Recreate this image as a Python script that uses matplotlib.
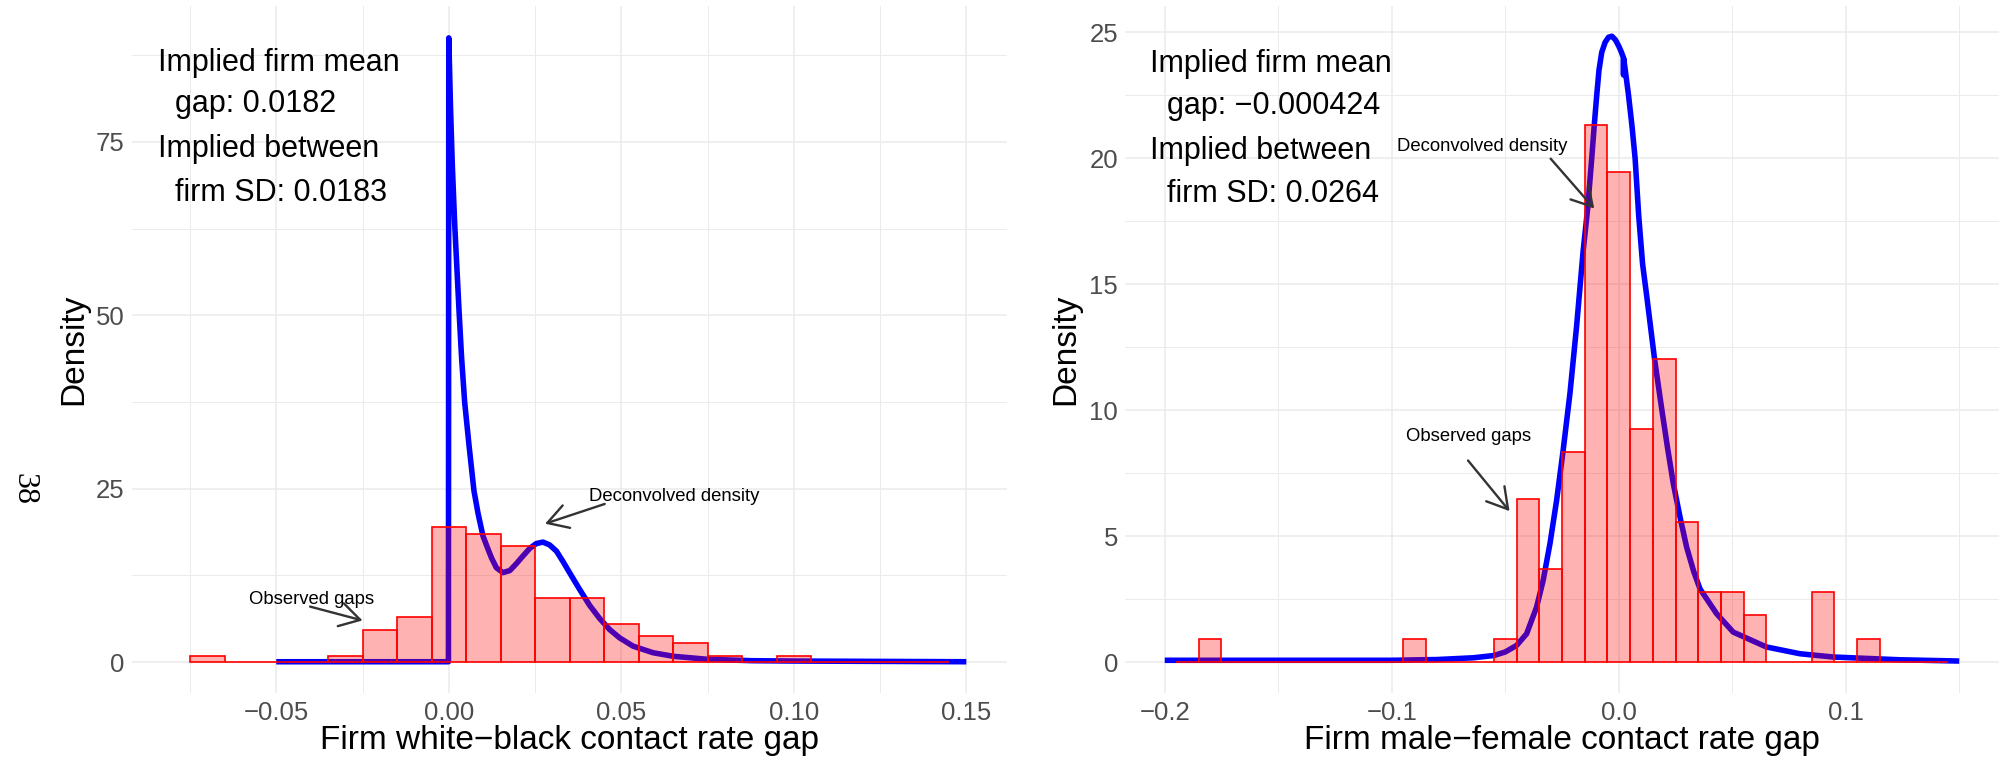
import matplotlib
matplotlib.use('Agg')
import matplotlib.pyplot as plt
from matplotlib.ticker import FixedLocator, FixedFormatter

plt.rcParams['font.family'] = ['Liberation Sans', 'DejaVu Sans']

# ---- white-black panel ----
wb_bin_centers = [-0.07, -0.06, -0.05, -0.04, -0.03, -0.02, -0.01, 0.00, 0.01, 0.02, 0.03,
                  0.04, 0.05, 0.06, 0.07, 0.08, 0.09, 0.10, 0.11, 0.12, 0.13, 0.14]
wb_density = [0.93, 0, 0, 0, 0.93, 4.63, 6.48, 19.44, 18.52, 16.67, 9.26,
              9.26, 5.56, 3.70, 2.78, 0.93, 0, 0.93, 0, 0, 0, 0]
wb_curve_x = [-0.05, -0.03, -0.01, -0.0001, 0.0, 0.0005, 0.001, 0.0017, 0.003, 0.0037,
              0.0046, 0.0059, 0.0073, 0.0085, 0.0099, 0.0112, 0.0124, 0.0138, 0.0157, 0.0177,
              0.0196, 0.0215, 0.0235, 0.0254, 0.0273, 0.0292, 0.0312, 0.0331, 0.035, 0.0379,
              0.0408, 0.0437, 0.0466, 0.0495, 0.0534, 0.0592, 0.065, 0.075, 0.088, 0.1, 0.15]
wb_curve_y = [0.05, 0.05, 0.05, 0.05, 90.0, 80.0, 72.0, 63.3, 50.4, 44.0,
              37.5, 31.1, 24.7, 21.4, 18.2, 16.5, 15.0, 13.6, 12.9, 13.2,
              14.2, 15.3, 16.4, 17.1, 17.3, 16.9, 16.0, 14.5, 12.9, 10.5,
              8.2, 6.3, 4.7, 3.5, 2.3, 1.35, 0.84, 0.4, 0.2, 0.15, 0.05]

# ---- male-female panel ----
mf_bin_centers = [-0.19, -0.18, -0.17, -0.16, -0.15, -0.14, -0.13, -0.12, -0.11, -0.10,
                  -0.09, -0.08, -0.07, -0.06, -0.05, -0.04, -0.03, -0.02, -0.01, 0.00,
                  0.01, 0.02, 0.03, 0.04, 0.05, 0.06, 0.07, 0.08, 0.09, 0.10,
                  0.11, 0.12, 0.13, 0.14]
mf_density = [0, 0.93, 0, 0, 0, 0, 0, 0, 0, 0,
              0.93, 0, 0, 0, 0.93, 6.48, 3.70, 8.33, 21.30, 19.44,
              9.26, 12.04, 5.56, 2.78, 2.78, 1.85, 0, 0, 2.78, 0,
              0.93, 0, 0, 0]
mf_curve_x = [-0.2, -0.15, -0.1, -0.08, -0.064, -0.055, -0.05, -0.045, -0.0406, -0.0362,
              -0.0333, -0.0303, -0.0274, -0.0245, -0.0215, -0.0186, -0.0157, -0.0137, -0.0119,
              -0.0108, -0.0097, -0.0087, -0.0075, -0.006, -0.0045, -0.003, -0.0015, 0.0,
              0.0012, 0.0020, 0.0021, 0.0022, 0.0043, 0.0058, 0.0072, 0.0088, 0.0105, 0.0125,
              0.0158, 0.019, 0.0215, 0.024, 0.027, 0.0299, 0.033, 0.0358, 0.0431, 0.0504,
              0.065, 0.0798, 0.0944, 0.1238, 0.15]
mf_curve_y = [0.07, 0.07, 0.07, 0.1, 0.17, 0.26, 0.4, 0.66, 1.12, 2.18,
              3.24, 4.7, 6.4, 8.4, 10.66, 13.3, 16.3, 18.0, 20.0,
              21.3, 22.5, 23.5, 24.2, 24.6, 24.8, 24.84, 24.7, 24.45,
              24.2, 24.0, 23.3, 23.95, 22.5, 21.3, 20.0, 17.7, 15.8, 14.4,
              12.0, 10.0, 8.5, 7.1, 5.75, 4.56, 3.6, 2.9, 1.92, 1.19,
              0.6, 0.33, 0.2, 0.09, 0.04]

wb_stats = ["Implied firm mean", "  gap: 0.0182", "Implied between", "  firm SD: 0.0183"]
mf_stats = ["Implied firm mean", "  gap: \u22120.000424", "Implied between", "  firm SD: 0.0264"]

GRID = '#EBEBEB'
ARROW = dict(arrowstyle='->,head_length=1.45,head_width=0.85', color='#333333',
             lw=1.7, shrinkA=0, shrinkB=0, mutation_scale=10)


def draw_panel(ax, centers, dens, cx, cy, xlim, ylim, xmaj, xlab, xmin, ymaj, ymin, xlabel):
    ax.plot(cx, cy, color='#0000FF', lw=4.0, solid_capstyle='butt',
            solid_joinstyle='round', zorder=2)
    ax.bar(centers, dens, width=0.01, facecolor=(1, 0, 0, 0.3), edgecolor='#FF0000',
           linewidth=1.2, zorder=3)
    ax.set_xlim(*xlim)
    ax.set_ylim(*ylim)
    ax.xaxis.set_major_locator(FixedLocator(xmaj))
    ax.xaxis.set_major_formatter(FixedFormatter(xlab))
    ax.xaxis.set_minor_locator(FixedLocator(xmin))
    ax.yaxis.set_major_locator(FixedLocator(ymaj))
    ax.yaxis.set_minor_locator(FixedLocator(ymin))
    ax.grid(which='major', color=GRID, lw=1.1, zorder=0)
    ax.grid(which='minor', color=GRID, lw=0.7, zorder=0)
    ax.set_axisbelow(True)
    for s in ax.spines.values():
        s.set_visible(False)
    ax.tick_params(which='both', length=0, labelsize=18.5, labelcolor='#4D4D4D')
    ax.tick_params(axis='x', pad=5.5)
    ax.tick_params(axis='y', pad=5)
    ax.set_xlabel(xlabel, fontsize=24, va='center')
    ax.xaxis.set_label_coords(0.5, -0.0694)
    ax.set_ylabel('Density', fontsize=24, va='center')


def draw_stats(ax, x, ys, lines):
    for y, line in zip(ys, lines):
        ax.text(x, y, line, fontsize=22, ha='left', va='baseline', zorder=5)


fig = plt.figure(figsize=(20.06, 7.61), dpi=100)
ax1 = fig.add_axes([0.06565, 0.08897, 0.43619, 0.90315])
ax2 = fig.add_axes([0.56082, 0.08897, 0.43569, 0.90315])

draw_panel(ax1, wb_bin_centers, wb_density, wb_curve_x, wb_curve_y,
           (-0.0919, 0.1617), (-4.5, 94.6),
           [-0.05, 0.0, 0.05, 0.10, 0.15], ['\u22120.05', '0.00', '0.05', '0.10', '0.15'],
           [-0.075, -0.025, 0.025, 0.075, 0.125],
           [0, 25, 50, 75], [12.5, 37.5, 62.5, 87.5],
           'Firm white\u2212black contact rate gap')
ax1.yaxis.set_label_coords(-0.0659, 0.5)

draw_panel(ax2, mf_bin_centers, mf_density, mf_curve_x, mf_curve_y,
           (-0.2175, 0.1675), (-1.24, 26.04),
           [-0.2, -0.1, 0.0, 0.1], ['\u22120.2', '\u22120.1', '0.0', '0.1'],
           [-0.15, -0.05, 0.05, 0.15],
           [0, 5, 10, 15, 20, 25], [2.5, 7.5, 12.5, 17.5, 22.5],
           'Firm male\u2212female contact rate gap')
ax2.yaxis.set_label_coords(-0.0677, 0.5)

# summary text, one line at a time
draw_stats(ax1, -0.0842, [85.24, 79.28, 72.79, 66.49], wb_stats)
draw_stats(ax2, -0.2064, [23.41, 21.77, 19.98, 18.25], mf_stats)

# annotations
ax1.text(-0.0398, 9.0, 'Observed gaps', fontsize=13.3, ha='center', va='center', zorder=5)
ax1.annotate('', xy=(-0.025, 6.0), xytext=(-0.0402, 8.0), arrowprops=ARROW, zorder=5)
ax1.text(0.0654, 23.9, 'Deconvolved density', fontsize=13.3, ha='center', va='center', zorder=5)
ax1.annotate('', xy=(0.0279, 19.95), xytext=(0.0452, 22.8), arrowprops=ARROW, zorder=5)

ax2.text(-0.0661, 8.96, 'Observed gaps', fontsize=13.3, ha='center', va='center', zorder=5)
ax2.annotate('', xy=(-0.0481, 5.99), xytext=(-0.0664, 8.0), arrowprops=ARROW, zorder=5)
ax2.text(-0.0602, 20.47, 'Deconvolved density', fontsize=13.3, ha='center', va='center', zorder=5)
ax2.annotate('', xy=(-0.0108, 18.0), xytext=(-0.030, 19.98), arrowprops=ARROW, zorder=5)

# page number
fig.text(24 / 2006, 1 - 489 / 761, '38', rotation=-90, fontsize=23,
         family=['Liberation Serif', 'DejaVu Serif'], ha='center', va='center')

fig.savefig('out.png', dpi=100)
